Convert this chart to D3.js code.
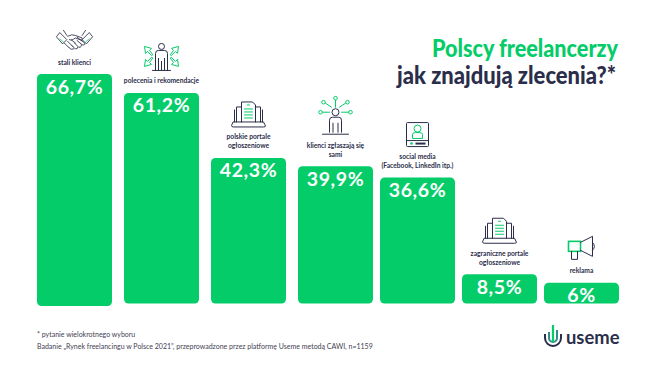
<!doctype html>
<html>
  <head>
    <meta charset="utf-8">
    <script src="https://d3js.org/d3.v7.min.js"></script>
    <style>
      html, body { margin: 0; padding: 0; background: #fff; }
      svg { display: block; }
      text { font-family: Lato, "Open Sans", sans-serif; }
    </style>
  </head>
  <body>
    <svg id="chart" width="655" height="377"></svg>
    <script>
      // data
      var categories = ["stali klienci", "polecenia i rekomendacje", "polskie portale|ogłoszeniowe",
        "klienci zgłaszają się|sami", "social media|(Facebook, LinkedIn itp.)",
        "zagraniczne portale|ogłoszeniowe", "reklama"];
      var values = [66.7, 61.2, 42.3, 39.9, 36.6, 8.5, 6];
      var valueLabels = ["66,7%", "61,2%", "42,3%", "39,9%", "36,6%", "8,5%", "6%"];
      var icons = ["hands", "arrows", "laptop", "network", "profile", "laptop", "megaphone"];

      var green = "#04cc69", dark = "#2b2e4a", grey = "#3f4152";
      var svg = d3.select("#chart");

      // bar spacing tightens after the fourth bar
      var x = d3.scaleLinear().domain([0, 3, 6]).range([37, 298, 544]);
      var y = d3.scaleLinear().domain([0, 66.7]).range([303.5, 74]);
      var barW = 75;

      // bars
      svg.selectAll("rect.bar")
        .data(values)
        .enter()
        .append("rect")
          .attr("class", "bar")
          .attr("x", function(d, i) { return x(i); })
          .attr("y", function(d) { return y(d); })
          .attr("width", barW)
          .attr("height", function(d, i) { return y(0) - y(d) + (i == 0 ? 2.5 : 0); }) // first bar runs a bit lower
          .attr("rx", 4.5)
          .attr("fill", green);

      // value labels
      svg.selectAll("text.val")
        .data(valueLabels)
        .enter()
        .append("text")
          .attr("class", "val")
          .attr("x", function(d, i) { return x(i) + barW / 2; })
          .attr("y", function(d, i) { return y(values[i]) + 19.5; })
          .attr("text-anchor", "middle")
          .attr("font-size", 19.5)
          .attr("font-weight", 700)
          .attr("letter-spacing", 0.6)
          .attr("fill", "#fff")
          .text(function(d) { return d; });

      // category labels sit above the bars, two lines at most
      categories.forEach(function(c, i) {
        var lines = c.split("|");
        lines.forEach(function(l, j) {
          svg.append("text")
            .attr("x", x(i) + barW / 2)
            .attr("y", y(values[i]) - 9.5 - (lines.length - 1 - j) * 9)
            .attr("text-anchor", "middle")
            .attr("font-size", 6.7)
            .attr("font-weight", 700)
            .attr("fill", dark)
            .text(l);
        });
      });

      // line icons, drawn in a local box and placed over each bar
      function line(g, d, col) {
        g.append("path").attr("d", d).attr("fill", "none")
          .attr("stroke", col || dark).attr("stroke-width", 1)
          .attr("stroke-linejoin", "round").attr("stroke-linecap", "round");
      }
      var drawIcon = {
        hands: function(g) {
          g = g.append("g").attr("transform", "scale(0.85)");
          line(g, "M-17,-9 L-9,-1 L-14,4 L-21,-4 Z M-13,-12 L-9,-6", dark);
          line(g, "M17,-9 L9,-1 L14,4 L21,-4 Z M13,-12 L9,-6", dark);
          line(g, "M-8,-5 Q-3,-8 1,-6 L9,-3 L9,0 L1,-3 Q-4,1 -6,-1");
          line(g, "M3,-4 L12,3 Q13,6 9,5 L3,0 M8,5 Q9,8 5,8 L0,3 M4,8 Q4,10 1,10 L-3,6");
          line(g, "M-12,3 L-7,8 M-8,1 L-2,7 M-4,-1 L1,3 M-7,8 Q-4,12 -1,10");
          line(g, "M-17,-2 L-13,2 M17,-2 L13,2", green);
        },
        arrows: function(g) {
          g.append("circle").attr("cx", 0).attr("cy", -10).attr("r", 3).attr("fill", "none").attr("stroke", dark);
          line(g, "M-6,14 L-6,-3 Q-6,-6 -3,-6 L3,-6 Q6,-6 6,-3 L6,14 M-3,14 L-3,2 M3,14 L3,2 M0,14 L0,5 M-9,14 L9,14");
          [[-1,-1],[1,-1],[-1,1],[1,1]].forEach(function(s) {
            var a = s[0], b = s[1];
            line(g, "M" + a*9 + "," + b*2 + " L" + a*12 + "," + b*6 + " L" + a*10 + "," + b*8 + " L" + a*17 + "," + b*10 +
              " L" + a*16 + "," + b*3 + " L" + a*14 + "," + b*5 + " L" + a*10 + "," + b*1 + " Z", green);
          });
        },
        laptop: function(g) {
          line(g, "M-12,8 L-12,-7 L-7,-7 M12,8 L12,-7 L7,-7 M-14,8 L-14,-4 M14,8 L14,-4");
          line(g, "M-7,8 L-7,-12 L4,-12 L7,-9 L7,8");
          line(g, "M-4,-5 L4,-5 M-4,-2 L4,-2 M-4,1 L4,1 M-4,4 L4,4 M-1,-9 L1,-9", green);
          line(g, "M-15,8 L15,8 L17,12 Q17,13 15,13 L-15,13 Q-17,13 -17,12 Z");
        },
        network: function(g) {
          g.append("circle").attr("cx", 0).attr("cy", -3).attr("r", 3.5).attr("fill", "none").attr("stroke", dark);
          line(g, "M-6,17 L-6,5 Q-6,2 -3,2 L3,2 Q6,2 6,5 L6,17 M-2.5,17 L-2.5,8 M2.5,17 L2.5,8 M-13,19 L13,19");
          [[0,-17],[-12,-13],[12,-13],[-15,-3],[15,-3]].forEach(function(p) {
            g.append("circle").attr("cx", p[0]).attr("cy", p[1]).attr("r", 1.8).attr("fill", "none").attr("stroke", green);
          });
          line(g, "M0,-15 L0,-8 M-10,-12 L-4,-8 M10,-12 L4,-8 M-13,-3 L-6,-3 M13,-3 L6,-3", green);
        },
        profile: function(g) {
          g.append("rect").attr("x", -11).attr("y", -12).attr("width", 22).attr("height", 24).attr("rx", 1).attr("fill", "none").attr("stroke", dark);
          line(g, "M-11,6 L11,6");
          g.append("circle").attr("cx", 0).attr("cy", -6).attr("r", 3.5).attr("fill", "none").attr("stroke", green);
          line(g, "M-5,3.5 L-5,0 Q-5,-2 -2,-2 L2,-2 Q5,-2 5,0 L5,3.5 Z", green);
          g.append("circle").attr("cx", -6).attr("cy", 9).attr("r", 1.3).attr("fill", green);
          g.append("rect").attr("x", -2).attr("y", 8).attr("width", 10).attr("height", 2).attr("fill", dark);
        },
        megaphone: function(g) {
          g.append("rect").attr("x", -13).attr("y", -7).attr("width", 12).attr("height", 10).attr("fill", "none").attr("stroke", green).attr("stroke-width", 1.6);
          line(g, "M-1,-6 L11,-12 L11,8 L-1,2 M11,-6 Q15,-2 11,2");
          line(g, "M-10,3 L-10,11 L-4,11 L-4,3");
        }
      };
      // how far each icon sits over its label
      var iconLift = { hands: 24, arrows: 27, laptop: 25, network: 32, profile: 24, megaphone: 25 };
      icons.forEach(function(name, i) {
        var lines = categories[i].split("|").length;
        var cy = y(values[i]) - 9.5 * lines - iconLift[name];
        var g = svg.append("g").attr("transform", "translate(" + (x(i) + barW / 2) + "," + cy + ")");
        drawIcon[name](g);
      });

      // title, squeezed to the width of the original's narrower face
      svg.append("text").attr("x", 618).attr("y", 57).attr("text-anchor", "end")
        .attr("font-size", 24).attr("font-weight", 900).attr("fill", green)
        .attr("textLength", 186).attr("lengthAdjust", "spacingAndGlyphs").text("Polscy freelancerzy");
      svg.append("text").attr("x", 616).attr("y", 84).attr("text-anchor", "end")
        .attr("font-size", 24).attr("font-weight", 900).attr("fill", dark)
        .attr("textLength", 219).attr("lengthAdjust", "spacingAndGlyphs").text("jak znajdują zlecenia?*");

      // footnotes
      svg.append("text").attr("x", 37).attr("y", 337).attr("font-size", 7).attr("fill", grey).text("* pytanie wielokrotnego wyboru");
      svg.append("text").attr("x", 37).attr("y", 349).attr("font-size", 7).attr("fill", grey)
        .text("Badanie „Rynek freelancingu w Polsce 2021”, przeprowadzone przez platformę Useme metodą CAWI, n=1159");

      // logo
      var logo = svg.append("g").attr("transform", "translate(553,337)");
      logo.append("path").attr("d", "M-8,-3 L-8,1 A8,8 0 0 0 8,1 L8,-3").attr("fill", "none").attr("stroke", dark).attr("stroke-width", 2);
      logo.append("path").attr("d", "M-4,-5 L-4,1 A4,4 0 0 0 4,1 L4,-7").attr("fill", "none").attr("stroke", "#2f8f8a").attr("stroke-width", 2);
      logo.append("path").attr("d", "M0,-12 L0,5").attr("fill", "none").attr("stroke", green).attr("stroke-width", 2.2);
      svg.append("text").attr("x", 566).attr("y", 344).attr("font-size", 18.4).attr("font-weight", 700).attr("fill", dark).text("useme");
    </script>
  </body>
</html>
